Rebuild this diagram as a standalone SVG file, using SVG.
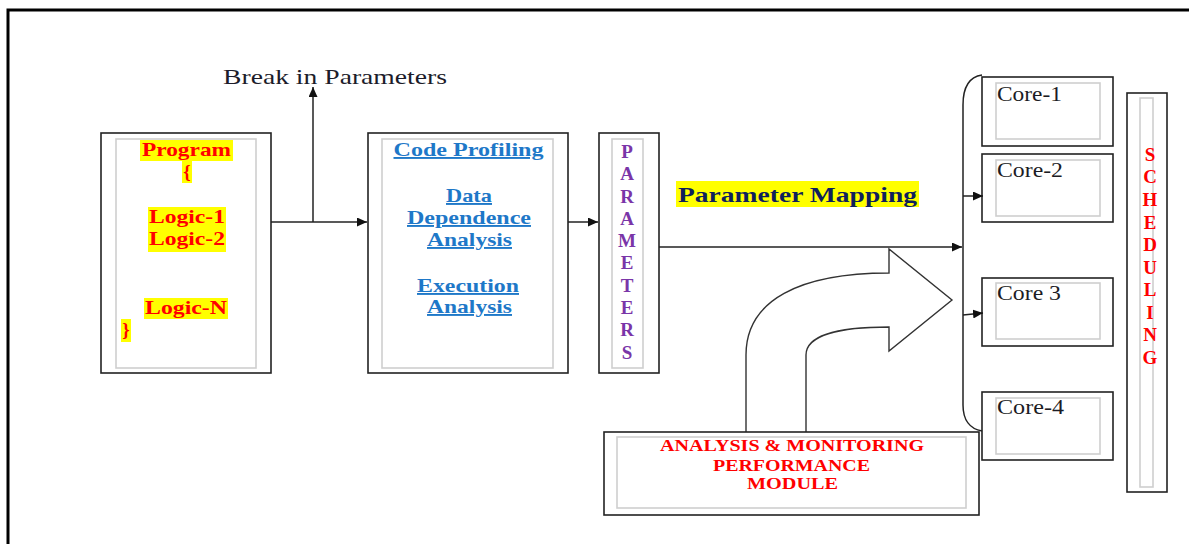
<svg xmlns="http://www.w3.org/2000/svg" width="1189" height="544" viewBox="0 0 1189 544">
  <style>
    .box { fill: #fff; stroke: #222; stroke-width: 1.6; }
    .inner { fill: none; stroke: #cfcfcf; stroke-width: 1.6; }
    .hl { fill: #ffff00; }
    .prog { font-family: "Liberation Serif", serif; font-weight: bold; font-size: 19px; fill: #ff0000; text-anchor: middle; }
    .prof { font-family: "Liberation Serif", serif; font-weight: bold; font-size: 19px; fill: #1e78c8; text-anchor: middle; text-decoration: underline; }
    .param { font-family: "Liberation Serif", serif; font-weight: bold; font-size: 19px; fill: #7a35a8; text-anchor: middle; }
    .sched { font-family: "Liberation Serif", serif; font-weight: bold; font-size: 19px; fill: #ff0000; text-anchor: middle; }
    .core { font-family: "Liberation Serif", serif; font-size: 20px; fill: #1c1c24; }
    .amp { font-family: "Liberation Serif", serif; font-weight: bold; font-size: 16px; fill: #ff0000; text-anchor: middle; }
    .plain { font-family: "Liberation Serif", serif; font-size: 22px; fill: #1c1c2a; }
    .map { font-family: "Liberation Serif", serif; font-weight: bold; font-size: 22px; fill: #0f1f5c; text-anchor: middle; }
    .conn { fill: none; stroke: #222; stroke-width: 1.5; }
  </style>
  <defs>
    <marker id="arrow" markerUnits="userSpaceOnUse" markerWidth="11" markerHeight="9" refX="10" refY="4.5" orient="auto">
      <path d="M0,0 L10,4.5 L0,9 z" fill="#111"/>
    </marker>
  </defs>

  <rect width="1189" height="544" fill="#fff"/>
  <!-- page frame -->
  <path d="M8,548 L8,10 L1195,10" fill="none" stroke="#000" stroke-width="3"/>

  <!-- label above the branch -->
  <text class="plain" x="223" y="84" textLength="224" lengthAdjust="spacingAndGlyphs">Break in Parameters</text>

  <!-- program node -->
  <g id="program">
    <rect class="box" x="101" y="133" width="170" height="240"/>
    <rect class="inner" x="116" y="139" width="140" height="229"/>
    <rect class="hl" x="140" y="140" width="93" height="21"/>
    <rect class="hl" x="182" y="161" width="10" height="22"/>
    <rect class="hl" x="148" y="207" width="78" height="45"/>
    <rect class="hl" x="144" y="298" width="84" height="21"/>
    <rect class="hl" x="121" y="319" width="10" height="23"/>
    <text class="prog" x="186.5" y="156" textLength="89" lengthAdjust="spacingAndGlyphs">Program</text>
    <text class="prog" x="187" y="178">{</text>
    <text class="prog" x="187" y="223" textLength="76" lengthAdjust="spacingAndGlyphs">Logic-1</text>
    <text class="prog" x="187" y="245" textLength="76" lengthAdjust="spacingAndGlyphs">Logic-2</text>
    <text class="prog" x="186" y="314" textLength="82" lengthAdjust="spacingAndGlyphs">Logic-N</text>
    <text class="prog" x="126" y="336">}</text>
  </g>

  <!-- code profiling node -->
  <g id="code-profiling">
    <rect class="box" x="368" y="133" width="200" height="240"/>
    <rect class="inner" x="382" y="139" width="171" height="229"/>
    <text class="prof" x="468.5" y="156" textLength="150" lengthAdjust="spacingAndGlyphs">Code Profiling</text>
    <text class="prof" x="469" y="202" textLength="46" lengthAdjust="spacingAndGlyphs">Data</text>
    <text class="prof" x="469" y="224" textLength="124" lengthAdjust="spacingAndGlyphs">Dependence</text>
    <text class="prof" x="469.5" y="246" textLength="85" lengthAdjust="spacingAndGlyphs">Analysis</text>
    <text class="prof" x="468" y="292" textLength="102" lengthAdjust="spacingAndGlyphs">Execution</text>
    <text class="prof" x="469.5" y="313" textLength="85" lengthAdjust="spacingAndGlyphs">Analysis</text>
  </g>

  <!-- parameters node -->
  <g id="parameters">
    <rect class="box" x="599" y="133" width="60" height="240"/>
    <rect class="inner" x="612" y="139" width="31" height="229"/>
    <text class="param" x="627" y="158">P</text>
    <text class="param" x="627" y="180">A</text>
    <text class="param" x="627" y="203">R</text>
    <text class="param" x="627" y="225">A</text>
    <text class="param" x="627" y="247">M</text>
    <text class="param" x="627" y="269">E</text>
    <text class="param" x="627" y="292">T</text>
    <text class="param" x="627" y="314">E</text>
    <text class="param" x="627" y="336">R</text>
    <text class="param" x="627" y="359">S</text>
  </g>

  <!-- mapping label -->
  <g id="parameter-mapping">
    <rect class="hl" x="676" y="181" width="243" height="26"/>
    <text class="map" x="797.5" y="202" textLength="239" lengthAdjust="spacingAndGlyphs">Parameter Mapping</text>
  </g>

  <!-- feedback block arrow -->
  <g id="feedback-arrow">
    <path d="M746,432 L746,355 C746,300 800,273 889,273 L889,249 L952,300 L889,351 L889,327 C840,327 806,335 806,355 L806,432"
          fill="#fff" stroke="#333" stroke-width="1.4" stroke-linejoin="miter"/>
  </g>

  <!-- analysis & monitoring node -->
  <g id="analysis-monitoring">
    <rect class="box" x="604" y="432" width="375" height="83"/>
    <rect class="inner" x="617" y="437" width="349" height="71"/>
    <text class="amp" x="792" y="451" textLength="264" lengthAdjust="spacingAndGlyphs">ANALYSIS &amp; MONITORING</text>
    <text class="amp" x="791.5" y="471" textLength="157" lengthAdjust="spacingAndGlyphs">PERFORMANCE</text>
    <text class="amp" x="792.5" y="489" textLength="91" lengthAdjust="spacingAndGlyphs">MODULE</text>
  </g>

  <!-- core nodes -->
  <g id="core-1">
    <rect class="box" x="982" y="77" width="131" height="69"/>
    <rect class="inner" x="996" y="83" width="104" height="56"/>
    <text class="core" x="997" y="101" textLength="65" lengthAdjust="spacingAndGlyphs">Core-1</text>
  </g>
  <g id="core-2">
    <rect class="box" x="982" y="154" width="131" height="68"/>
    <rect class="inner" x="996" y="160" width="104" height="56"/>
    <text class="core" x="997" y="177" textLength="66" lengthAdjust="spacingAndGlyphs">Core-2</text>
  </g>
  <g id="core-3">
    <rect class="box" x="982" y="278" width="131" height="68"/>
    <rect class="inner" x="996" y="283" width="104" height="56"/>
    <text class="core" x="997" y="300" textLength="64" lengthAdjust="spacingAndGlyphs">Core 3</text>
  </g>
  <g id="core-4">
    <rect class="box" x="982" y="392" width="131" height="68"/>
    <rect class="inner" x="996" y="398" width="104" height="56"/>
    <text class="core" x="997" y="414" textLength="67" lengthAdjust="spacingAndGlyphs">Core-4</text>
  </g>

  <!-- scheduling node -->
  <g id="scheduling">
    <rect class="box" x="1127" y="93" width="40" height="399"/>
    <rect class="inner" x="1140" y="98" width="13" height="389"/>
    <text class="sched" x="1150" y="161">S</text>
    <text class="sched" x="1150" y="183">C</text>
    <text class="sched" x="1150" y="206">H</text>
    <text class="sched" x="1150" y="229">E</text>
    <text class="sched" x="1150" y="251">D</text>
    <text class="sched" x="1150" y="274">U</text>
    <text class="sched" x="1150" y="296">L</text>
    <text class="sched" x="1150" y="319">I</text>
    <text class="sched" x="1150" y="341">N</text>
    <text class="sched" x="1150" y="364">G</text>
  </g>

  <!-- connectors -->
  <g id="connectors">
    <line class="conn" x1="271" y1="222" x2="367" y2="222" marker-end="url(#arrow)"/>
    <line class="conn" x1="313" y1="222" x2="313" y2="87" marker-end="url(#arrow)"/>
    <line class="conn" x1="568" y1="222" x2="598" y2="222" marker-end="url(#arrow)"/>
    <line class="conn" x1="659" y1="247" x2="962" y2="247" stroke="#333" marker-end="url(#arrow)"/>
    <!-- brace gathering the cores -->
    <path class="conn" d="M982,75 C968,77 963,88 963,105 L963,405 C963,420 970,429 982,431" stroke="#444"/>
    <line class="conn" x1="963" y1="196" x2="983" y2="196" marker-end="url(#arrow)"/>
    <line class="conn" x1="963" y1="315" x2="983" y2="313" marker-end="url(#arrow)"/>
  </g>
</svg>
